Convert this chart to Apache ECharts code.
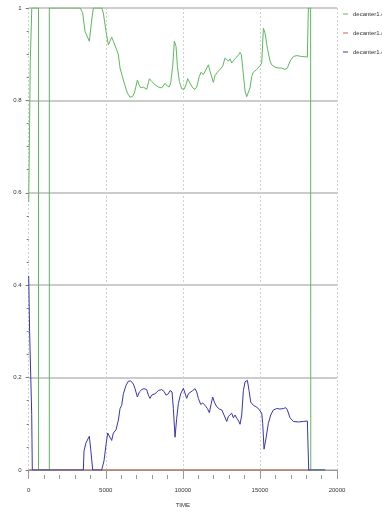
<!DOCTYPE html>
<html>
<head>
<meta charset="utf-8">
<script src="https://cdn.jsdelivr.net/npm/echarts@6/dist/echarts.min.js"></script>
<style>html,body{margin:0;padding:0;background:#fff;}#c{width:382px;height:513px;}</style>
</head>
<body>
<div id="c"></div>
<script>
var seriesNames = ['decanter1.oil.x_oil', 'decanter1.oil.x_sol', 'decanter1.oil.x_wat'];
var xTicks = [0, 5000, 10000, 15000, 20000];
var yTicks = [0, 0.2, 0.4, 0.6, 0.8, 1];

var oilTime = [0, 60, 100, 200, 636, 636, 1337, 1337, 3330, 3500, 3654, 3762, 3935, 4087, 4195, 4735, 4843, 5016, 5168, 5276, 5384, 5492, 5665, 5817, 5925, 6098, 6249, 6400, 6573, 6746, 6854, 6962, 7049, 7157, 7287, 7438, 7655, 7763, 7828, 7979, 8195, 8412, 8628, 8844, 8995, 9125, 9212, 9342, 9450, 9558, 9645, 9775, 9926, 10077, 10207, 10315, 10467, 10640, 10791, 10899, 11072, 11180, 11331, 11504, 11656, 11764, 11980, 12088, 12240, 12413, 12586, 12737, 12845, 12953, 13061, 13169, 13277, 13386, 13494, 13624, 13710, 13797, 13927, 14035, 14143, 14251, 14359, 14467, 14575, 14791, 15008, 15116, 15224, 15332, 15483, 15656, 15764, 15980, 16197, 16413, 16629, 16780, 16953, 17169, 17385, 17710, 18078, 18143, 18290, 18300, 19230];
var oilFrac = [0.58, 0.75, 0.88, 1, 1, 0, 0, 1, 1, 0.99, 0.949, 0.946, 0.928, 0.974, 1, 1, 0.989, 0.949, 0.92, 0.917, 0.937, 0.928, 0.913, 0.899, 0.87, 0.849, 0.832, 0.816, 0.807, 0.809, 0.816, 0.831, 0.844, 0.834, 0.827, 0.829, 0.824, 0.838, 0.847, 0.841, 0.834, 0.829, 0.827, 0.837, 0.831, 0.829, 0.838, 0.874, 0.928, 0.917, 0.874, 0.841, 0.825, 0.824, 0.834, 0.847, 0.837, 0.827, 0.824, 0.829, 0.852, 0.861, 0.856, 0.867, 0.877, 0.863, 0.839, 0.854, 0.861, 0.867, 0.874, 0.892, 0.894, 0.885, 0.89, 0.881, 0.877, 0.89, 0.894, 0.899, 0.904, 0.899, 0.856, 0.82, 0.808, 0.806, 0.827, 0.852, 0.861, 0.867, 0.875, 0.881, 0.956, 0.946, 0.913, 0.885, 0.877, 0.872, 0.87, 0.87, 0.867, 0.87, 0.885, 0.895, 0.897, 0.895, 0.894, 1, 1, 0, 0];

var solTime = [0, 18300];
var solFrac = [0, 0];

var watTime = [0, 60, 195, 234, 3545, 3588, 3718, 3805, 3935, 4022, 4152, 4735, 4886, 5016, 5124, 5233, 5384, 5492, 5665, 5817, 5925, 6033, 6141, 6314, 6465, 6617, 6790, 6898, 7049, 7179, 7330, 7482, 7655, 7763, 7871, 7979, 8195, 8412, 8628, 8779, 8909, 9061, 9169, 9299, 9385, 9493, 9602, 9710, 9861, 10034, 10142, 10250, 10358, 10467, 10640, 10791, 10899, 11007, 11158, 11288, 11439, 11591, 11720, 11828, 11937, 12045, 12196, 12369, 12521, 12672, 12845, 12953, 13061, 13169, 13277, 13386, 13494, 13624, 13710, 13818, 13927, 14035, 14186, 14294, 14402, 14575, 14748, 14900, 15116, 15181, 15267, 15397, 15548, 15700, 15873, 16089, 16305, 16521, 16673, 16780, 16953, 17169, 17494, 17818, 18078, 18165, 19230];
var watFrac = [0.42, 0.3, 0.12, 0, 0, 0.041, 0.059, 0.055, 0.073, 0.045, 0, 0, 0.02, 0.055, 0.08, 0.082, 0.064, 0.08, 0.087, 0.108, 0.133, 0.14, 0.165, 0.183, 0.192, 0.193, 0.186, 0.176, 0.158, 0.169, 0.174, 0.176, 0.174, 0.162, 0.155, 0.162, 0.165, 0.172, 0.174, 0.17, 0.162, 0.165, 0.172, 0.169, 0.133, 0.071, 0.112, 0.144, 0.165, 0.177, 0.176, 0.155, 0.165, 0.162, 0.172, 0.176, 0.169, 0.155, 0.142, 0.145, 0.14, 0.133, 0.124, 0.142, 0.158, 0.147, 0.137, 0.132, 0.13, 0.119, 0.105, 0.116, 0.112, 0.123, 0.113, 0.119, 0.112, 0.106, 0.099, 0.119, 0.172, 0.191, 0.194, 0.172, 0.147, 0.14, 0.137, 0.133, 0.123, 0.101, 0.045, 0.069, 0.101, 0.119, 0.13, 0.133, 0.132, 0.133, 0.135, 0.13, 0.113, 0.105, 0.104, 0.105, 0.106, 0, 0];

function zip(a, b) { return a.map(function (t, i) { return [t, b[i]]; }); }

var FONT = '"Liberation Sans", Arial, sans-serif';
var chart = echarts.init(document.getElementById('c'), null, {renderer: 'canvas'});
chart.setOption({
  animation: false,
  backgroundColor: '#ffffff',
  grid: {left: 28.7, right: 45, top: 8, bottom: 37, containLabel: false},
  legend: {
    orient: 'vertical', left: 338, top: 6, itemWidth: 5, itemHeight: 1, itemGap: 13,
    icon: 'rect',
    textStyle: {fontFamily: FONT, fontSize: 6, color: '#333'},
    data: seriesNames
  },
  xAxis: [{
    type: 'value', min: xTicks[0], max: xTicks[xTicks.length - 1], interval: 5000,
    offset: 5,
    name: 'TIME', nameLocation: 'middle', nameGap: 27,
    nameTextStyle: {fontFamily: FONT, fontSize: 6, color: '#333'},
    axisLine: {show: true, lineStyle: {color: '#999', width: 1}},
    axisTick: {show: true, length: 7, lineStyle: {color: '#999'}},
    axisLabel: {fontFamily: FONT, fontSize: 6, color: '#333', margin: 12,
      formatter: function (v) { return String(v); }},
    splitLine: {show: true, lineStyle: {color: '#cfcfcf', type: [2, 2], width: 1}}
  }, {
    type: 'value', min: xTicks[0], max: xTicks[xTicks.length - 1], interval: 1000,
    position: 'bottom', offset: 5,
    axisLine: {show: false},
    axisTick: {show: true, length: 4, lineStyle: {color: '#999'}},
    axisLabel: {show: false},
    splitLine: {show: false}
  }],
  yAxis: {
    type: 'value', min: yTicks[0], max: yTicks[yTicks.length - 1], interval: 0.2,
    offset: 2,
    axisLine: {show: false},
    axisTick: {show: true, length: 3, lineStyle: {color: '#777'}},
    minorTick: {show: true, splitNumber: 4, length: 2, lineStyle: {color: '#777'}},
    axisLabel: {fontFamily: FONT, fontSize: 6, color: '#333', margin: 5,
      formatter: function (v) { return String(Math.round(v * 10) / 10); }},
    splitLine: {show: true, lineStyle: {color: '#cccccc', width: 2}}
  },
  series: [
    {name: seriesNames[0], type: 'line', showSymbol: false, symbol: 'none',
     lineStyle: {width: 1, color: '#5cb85c'}, itemStyle: {color: '#5cb85c'},
     data: zip(oilTime, oilFrac)},
    {name: seriesNames[1], type: 'line', showSymbol: false, symbol: 'none',
     lineStyle: {width: 1, color: '#c8643c'}, itemStyle: {color: '#c8643c'},
     data: zip(solTime, solFrac)},
    {name: seriesNames[2], type: 'line', showSymbol: false, symbol: 'none',
     lineStyle: {width: 1, color: '#3636b0'}, itemStyle: {color: '#3636b0'},
     data: zip(watTime, watFrac)}
  ]
});
</script>
</body>
</html>
